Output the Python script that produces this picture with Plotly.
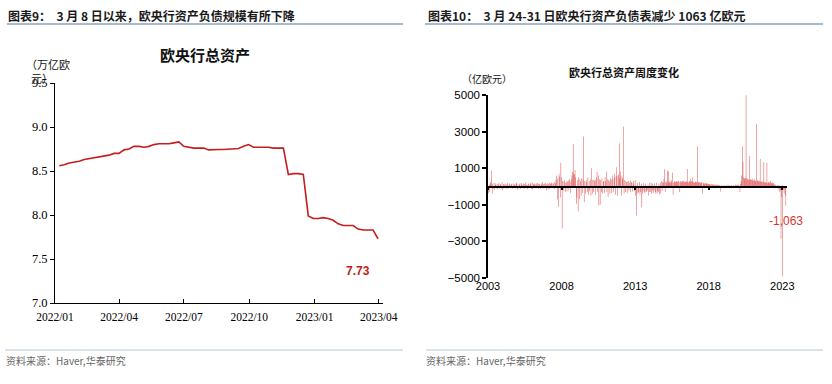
import pandas as pd
import plotly.graph_objects as go

W, H = 832, 384

# ---------------- Left chart: ECB total assets (trillion EUR), weekly ----------------
ta_dates = pd.date_range("2022-01-07", "2023-03-31", freq="W-FRI")
ta_values = [
    8.56, 8.57, 8.59, 8.60,            # 2022-01
    8.61, 8.63, 8.64, 8.65,            # 2022-02
    8.66, 8.67, 8.68, 8.70,            # 2022-03
    8.70, 8.74, 8.75, 8.78, 8.78,      # 2022-04
    8.77, 8.78, 8.80, 8.81,            # 2022-05
    8.81, 8.81, 8.82, 8.83,            # 2022-06
    8.78, 8.77, 8.76, 8.76, 8.76,      # 2022-07
    8.74, 8.745, 8.745, 8.745,         # 2022-08
    8.75, 8.755, 8.755, 8.78, 8.80,    # 2022-09
    8.77, 8.77, 8.77, 8.77,            # 2022-10
    8.76, 8.76, 8.76, 8.46,            # 2022-11
    8.47, 8.47, 8.46, 7.99, 7.96,      # 2022-12
    7.96, 7.97, 7.96, 7.94,            # 2023-01
    7.90, 7.88, 7.88, 7.88,            # 2023-02
    7.84, 7.83, 7.83, 7.83, 7.73,      # 2023-03
]
ta_last_label = "7.73"

# ---------------- Right chart: weekly change of ECB total assets (100mn EUR) ----------------
# values read at half-month resolution (15th and month end)
chg_2003 = [-350, 120, -300, 180, 250, 870, -400, 150, -120, 200, -180, 90, 160, -90, 130, -150, 110, 200, -100, 140, 80, -120, 250, -200]
chg_2004 = [130, -110, 90, 150, -80, 120, -140, 200, 70, -90, 160, 110, -70, 130, 90, -120, 180, -60, 100, 140, -90, 210, 160, -180]
chg_2005 = [110, -90, 150, 80, -130, 190, 120, -70, 100, 160, -110, 130, 220, -90, 110, 80, -150, 170, 120, -80, 140, 190, -130, 230]
chg_2006 = [-160, 140, 90, 180, -100, 120, 160, -90, 210, 130, -140, 150, 110, -120, 180, 90, 250, -110, 140, 170, -90, 200, 130, -220]
chg_2007 = [180, -150, 130, 200, -120, 160, 140, 220, -100, 170, 150, 240, -130, 190, 350, 600, -700, 450, -1100, 690, 550, -600, 1300, 500]
chg_2008 = [-2300, 300, -250, 280, 350, -300, 200, 250, -280, 300, 330, -200, 400, 280, -350, 380, 600, 800, 2330, 700, 650, 900, 500, -940]
chg_2009 = [-600, 350, -1370, 500, -700, 400, 300, -500, 450, -350, 380, 2730, -860, 300, -400, 350, 250, -300, 500, -450, 300, -250, 400, -500]
chg_2010 = [1000, -400, 350, -300, 400, 300, -450, 350, 500, 820, -300, 600, -1040, 400, -1000, 350, -300, 450, -400, 300, 250, -350, 500, 300]
chg_2011 = [820, -300, 400, -580, 350, 300, -400, 450, 380, -350, 600, 400, -300, 500, 700, -450, 550, 1050, -500, 600, 650, 450, 2370, 800]
chg_2012 = [600, -500, 400, 500, 3280, -400, 350, -300, 300, 250, -350, 280, 300, -250, 200, 330, -300, 250, 200, -280, 300, 150, -250, 350]
chg_2013 = [-500, -1590, -400, 200, -350, -300, 250, -450, -300, 150, -1130, -400, -250, 200, -300, -350, 150, -300, -250, -200, 100, -490, -300, 200]
chg_2014 = [-300, 200, -400, -250, 150, -350, -200, 180, -300, -400, 200, -350, -250, -300, 150, -420, 200, -380, 300, -250, 250, 200, 400, 960]
chg_2015 = [-300, 250, 200, 300, 870, 200, 820, 250, 300, 200, 250, 350, 750, -450, 200, 280, 300, 250, 220, 300, 280, 250, 330, -300]
chg_2016 = [250, 300, 200, 280, 320, 250, 300, 200, 280, 250, 300, 260, 960, 250, 200, 300, 280, 420, 250, 300, 500, 280, 250, 200]
chg_2017 = [200, 250, 280, 220, 260, 2180, 200, 250, 230, 200, 180, 250, 220, -400, 200, 180, 150, 200, 170, 150, 180, 160, 140, 130]
chg_2018 = [120, 150, 100, -80, 130, 110, 90, 120, -100, 100, 80, 110, 70, 90, -90, 80, 60, 70, -270, 50, 60, -60, 40, 50]
chg_2019 = [-80, 60, 50, -70, 40, 90, -50, 60, 70, -90, 50, -60, 80, 40, -70, 60, 50, -80, 70, 100, -60, 90, 80, -100]
chg_2020 = [100, -80, -300, 150, 300, 600, 2180, 1330, 500, 450, 400, 480, 4980, 450, 420, 400, 380, 350, 1660, 400, 380, 350, 420, 300]
chg_2021 = [350, 300, 400, 280, 320, 3420, 300, 350, 280, 300, 320, 1500, 250, 300, 220, 280, 250, 1350, 230, 250, 200, 220, 1300, 180]
chg_2022 = [250, 200, 230, 180, 300, 200, 150, 220, 180, 160, 150, -120, 100, -80, 60, -90, 80, -150, 70, -300, -200, -2860, -580, -4900]
chg_2023 = [100, -200, -400, -120, -500, -1063]
chg_last_label = "-1,063"

chg_years = {
    2003: chg_2003, 2004: chg_2004, 2005: chg_2005, 2006: chg_2006, 2007: chg_2007,
    2008: chg_2008, 2009: chg_2009, 2010: chg_2010, 2011: chg_2011, 2012: chg_2012,
    2013: chg_2013, 2014: chg_2014, 2015: chg_2015, 2016: chg_2016, 2017: chg_2017,
    2018: chg_2018, 2019: chg_2019, 2020: chg_2020, 2021: chg_2021, 2022: chg_2022,
    2023: chg_2023,
}
chg_dates, chg_values = [], []
for yr, vals in chg_years.items():
    slots = []
    for m in range(1, 13):
        slots.append(pd.Timestamp(yr, m, 15))
        slots.append(pd.Timestamp(yr, m, 1) + pd.offsets.MonthEnd(0))
    chg_dates += slots[:len(vals)]
    chg_values += vals

right_year_ticks = ["2003-01-01", "2008-01-01", "2013-01-01", "2018-01-01", "2023-01-01"]

# ---------------- figure ----------------
CJK = "Noto Sans CJK SC"
SERIF = "Liberation Serif"
SANS = "Liberation Sans"


def px_x(p):
    return p / W


def px_y(p):
    return 1 - p / H


fig = go.Figure()
fig.add_trace(go.Scatter(
    x=ta_dates, y=ta_values, mode="lines",
    line=dict(color="#C41E1E", width=1.6),
    xaxis="x", yaxis="y", showlegend=False, hoverinfo="skip"))
fig.add_trace(go.Bar(
    x=chg_dates, y=chg_values,
    marker=dict(color="rgba(212,45,45,0.95)", line=dict(width=0)),
    xaxis="x2", yaxis="y2", showlegend=False, hoverinfo="skip"))
# invisible trace so the zero-line axis is drawn
fig.add_trace(go.Scatter(
    x=[chg_dates[0]], y=[0], mode="markers", marker=dict(opacity=0),
    xaxis="x3", yaxis="y2", showlegend=False, hoverinfo="skip"))

y2_lo, y2_hi = 278, 95
zero_pos = px_y(y2_lo - (y2_lo - y2_hi) * 0.5)

fig.update_layout(
    template="none",
    width=W, height=H,
    margin=dict(l=0, r=0, t=0, b=0, pad=0, autoexpand=False),
    paper_bgcolor="white", plot_bgcolor="white",
    bargap=0.15,
    xaxis=dict(
        domain=[px_x(55), px_x(383)], anchor="y", type="date", automargin=False,
        range=["2022-01-01", "2023-04-07"],
        tick0="2022-01-01", dtick="M3", tickformat="%Y/%m",
        ticks="inside", ticklen=4, tickcolor="black",
        showline=True, linecolor="black", linewidth=1,
        showgrid=False, zeroline=False,
        tickfont=dict(family=SERIF, size=11.5, color="black"),
        ticklabelstandoff=3,
    ),
    yaxis=dict(
        domain=[px_y(303), px_y(83)], anchor="x", automargin=False,
        range=[7.0, 9.5], dtick=0.5, tickformat=".1f",
        ticks="outside", ticklen=4, tickcolor="black",
        showline=True, linecolor="black", linewidth=1,
        showgrid=False, zeroline=False,
        tickfont=dict(family=SERIF, size=12.5, color="black"),
    ),
    xaxis2=dict(
        domain=[px_x(488), px_x(786.5)], anchor="y2", type="date", automargin=False,
        range=["2003-01-01", "2023-04-15"],
        tickvals=right_year_ticks, tickformat="%Y",
        ticks="", showline=False, showgrid=False, zeroline=False,
        tickfont=dict(family=SANS, size=11, color="black"),
    ),
    xaxis3=dict(
        overlaying="x2", anchor="free", position=zero_pos, type="date", automargin=False,
        range=["2003-01-01", "2023-04-15"],
        tickvals=right_year_ticks, showticklabels=False,
        ticks="outside", ticklen=3, tickwidth=1.5, tickcolor="black",
        showline=True, linecolor="black", linewidth=1.5,
        showgrid=False, zeroline=False,
    ),
    yaxis2=dict(
        domain=[px_y(y2_lo), px_y(y2_hi)], anchor="x2", automargin=False,
        range=[-5000, 5000], tickvals=[-5000, -3000, -1000, 1000, 3000, 5000],
        ticks="outside", ticklen=4, tickwidth=1.5, tickcolor="black",
        showline=True, linecolor="black", linewidth=1.5,
        showgrid=False, zeroline=False,
        tickfont=dict(family=SANS, size=11.5, color="black"),
    ),
)

ann = []
# panel titles
ann.append(dict(x=px_x(6), y=px_y(15), xref="paper", yref="paper", xanchor="left", yanchor="middle",
                text="<b>图表9：  3 月 8 日以来，欧央行资产负债规模有所下降</b>", showarrow=False,
                font=dict(family=CJK, size=12, color="#1a1a1a")))
ann.append(dict(x=px_x(426), y=px_y(15), xref="paper", yref="paper", xanchor="left", yanchor="middle",
                text="<b>图表10：  3 月 24-31 日欧央行资产负债表减少 1063 亿欧元</b>", showarrow=False,
                font=dict(family=CJK, size=12, color="#1a1a1a")))
# chart titles
ann.append(dict(x=px_x(205), y=px_y(55), xref="paper", yref="paper", xanchor="center", yanchor="middle",
                text="<b>欧央行总资产</b>", showarrow=False,
                font=dict(family=CJK, size=15, color="#111")))
ann.append(dict(x=px_x(624), y=px_y(72), xref="paper", yref="paper", xanchor="center", yanchor="middle",
                text="<b>欧央行总资产周度变化</b>", showarrow=False,
                font=dict(family=CJK, size=11, color="#111")))
# units
ann.append(dict(x=px_x(24), y=px_y(54), xref="paper", yref="paper", xanchor="left", yanchor="top",
                text="（万亿欧<br>  元）", showarrow=False, align="left",
                font=dict(family=CJK, size=11, color="#111")))
ann.append(dict(x=px_x(460), y=px_y(79), xref="paper", yref="paper", xanchor="left", yanchor="middle",
                text="（亿欧元）", showarrow=False,
                font=dict(family=CJK, size=10, color="#111")))
# data labels
ann.append(dict(x=ta_dates[-1], y=ta_values[-1], xref="x", yref="y", xanchor="center", yanchor="middle",
                xshift=-20, yshift=-32,
                text="<b>" + ta_last_label + "</b>", showarrow=False,
                font=dict(family=SANS, size=12, color="#C0201C")))
ann.append(dict(x=chg_dates[-1], y=chg_values[-1], xref="x2", yref="y2", xanchor="center", yanchor="middle",
                yshift=-15,
                text=chg_last_label, showarrow=False,
                font=dict(family=SANS, size=12, color="#D0392F")))
# footers
ann.append(dict(x=px_x(4), y=px_y(360), xref="paper", yref="paper", xanchor="left", yanchor="middle",
                text="资料来源：Haver,华泰研究", showarrow=False,
                font=dict(family=CJK, size=10, color="#666")))
ann.append(dict(x=px_x(424), y=px_y(360), xref="paper", yref="paper", xanchor="left", yanchor="middle",
                text="资料来源：Haver,华泰研究", showarrow=False,
                font=dict(family=CJK, size=10, color="#666")))
fig.update_layout(annotations=ann)

shapes = []
for x0, x1 in [(7, 403), (425, 823)]:
    shapes.append(dict(type="line", xref="paper", yref="paper",
                       x0=px_x(x0), x1=px_x(x1), y0=px_y(24), y1=px_y(24),
                       line=dict(color="#8BA3BC", width=1.3)))
for x0, x1 in [(5, 403), (426, 823)]:
    shapes.append(dict(type="line", xref="paper", yref="paper",
                       x0=px_x(x0), x1=px_x(x1), y0=px_y(350), y1=px_y(350),
                       line=dict(color="#B7C5D3", width=1.2)))
fig.update_layout(shapes=shapes)

fig.write_html("out.html", config={"displayModeBar": False},
               post_script="document.body.style.margin='0';document.body.style.overflow='hidden';")
